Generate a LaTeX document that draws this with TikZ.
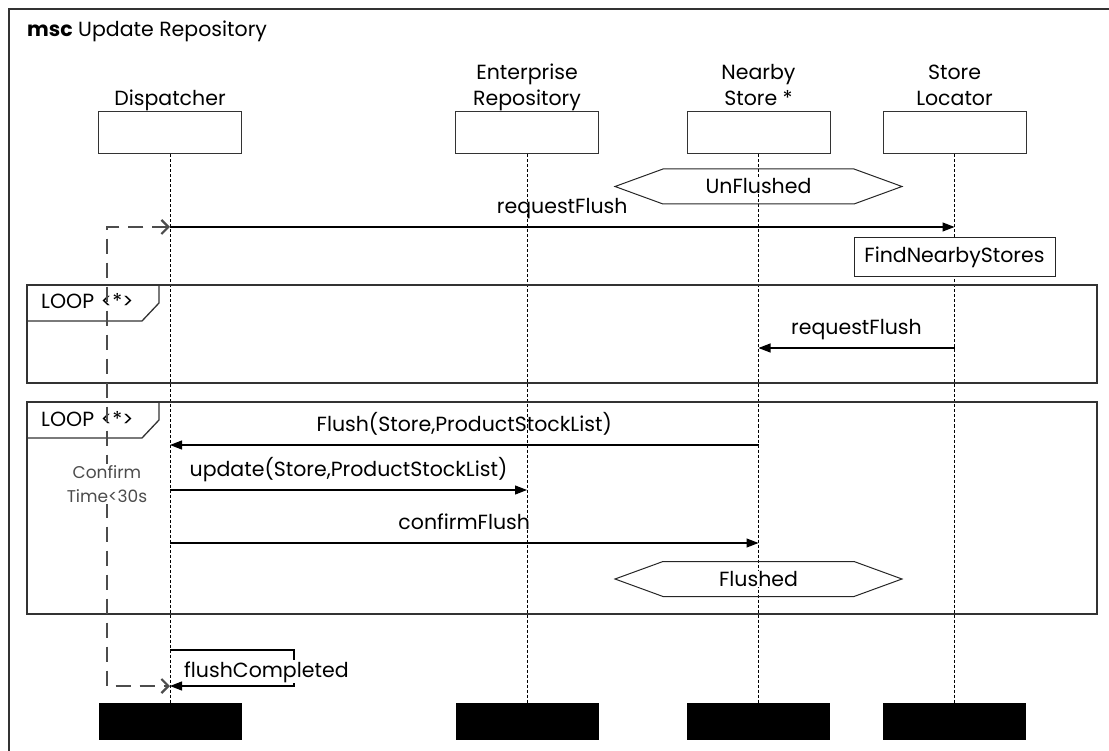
\documentclass[tikz,border=0pt]{standalone}
\usepackage{fontspec}
\setmainfont{Poppins}
\usetikzlibrary{arrows.meta,calc}
\begin{document}
\begin{tikzpicture}[x=1pt,y=-1pt,
  font=\fontsize{20.5}{26}\selectfont,
  frameline/.style={draw=black!80, line width=1.3pt},
  headbox/.style={draw=black!80, line width=1pt, minimum width=143pt, minimum height=42pt, inner sep=0pt},
  endbox/.style={fill=black, minimum width=143pt, minimum height=37pt, inner sep=0pt},
  headlabel/.style={align=center, anchor=base, inner sep=0pt},
  lifeline/.style={draw=black, line width=0.7pt, dash pattern=on 3pt off 2pt},
  msg/.style={draw=black, line width=1.1pt, -{Triangle[length=12pt,width=9pt]}},
  msglabel/.style={midway, anchor=base, yshift=13.5pt, inner sep=0pt},
  statebox/.style={draw=black!85, line width=1pt},
  timer/.style={draw=black!70, line width=2.2pt, dash pattern=on 15pt off 9pt,
                {Straight Barb[length=7pt,width=14pt]}-{Straight Barb[length=7pt,width=14pt]}},
]
\useasboundingbox (0,0) rectangle (1109,751);

% outer msc frame
\draw[frameline] (9,751) -- (9,9) -- (1109,9);
\node[anchor=base west, inner sep=0pt] (title) at (27,37) {\textbf{msc} Update Repository};

% instance heads
\node[headbox] (disp) at (170,133) {};
\node[headbox] (repo) at (527,133) {};
\node[headbox] (near) at (758.5,133) {};
\node[headbox] (loc)  at (954.5,133) {};
\node[headlabel] (displ) at (170,106) {Dispatcher};
\node[headlabel] (repol1) at (527,80) {Enterprise};
\node[headlabel] (repol2) at (527,106) {Repository};
\node[headlabel] (nearl1) at (758.5,80) {Nearby};
\node[headlabel] (nearl2) at (758.5,106) {Store *};
\node[headlabel] (locl1) at (954.5,80) {Store};
\node[headlabel] (locl2) at (954.5,106) {Locator};

% instance ends
\node[endbox] (dispe) at (170,721.5) {};
\node[endbox] (repoe) at (527,721.5) {};
\node[endbox] (neare) at (758.5,721.5) {};
\node[endbox] (loce)  at (954.5,721.5) {};

% lifelines
\draw[lifeline] (disp.south) -- (dispe.north);
\draw[lifeline] (repo.south) -- (repoe.north);
\draw[lifeline] (near.south) -- (neare.north);
\draw[lifeline] (loc.south) -- (loce.north);

% UnFlushed condition
\node[fill=white, inner sep=0pt] (unf) at (758.5,186.5) {UnFlushed};
\draw[statebox] ($(unf)+(-143.5,0)$) -- ++(48,-17.5) -- ++(191,0) -- ++(48,17.5)
  -- ++(-48,17.5) -- ++(-191,0) -- cycle;

% requestFlush to the locator
\draw[msg] (disp |- 0,227) -- node[msglabel] {requestFlush} (loc |- 0,227);

% FindNearbyStores action
\node[draw=black!85, line width=1pt, fill=white, minimum width=201pt, minimum height=39pt, inner sep=0pt]
  (find) at (954.5,257.5) {FindNearbyStores};

% first loop
\draw[frameline] (27,285) rectangle (1097,383);
\draw[frameline] (27,321) -- (142,321) -- (159,303) -- (159,285);
\node[anchor=base west, inner sep=0pt] (loop1) at (41,309) {LOOP\,\,<*>};
\draw[msg] (loc |- 0,348) -- node[msglabel] {requestFlush} (near |- 0,348);

% second loop
\draw[frameline] (27,402) rectangle (1097,614);
\draw[frameline] (27,438) -- (142,438) -- (159,420) -- (159,402);
\node[anchor=base west, inner sep=0pt] (loop2) at (41,426) {LOOP\,\,<*>};
\draw[msg] (near |- 0,445) -- node[msglabel] {Flush(Store,ProductStockList)} (disp |- 0,445);
\draw[msg] (disp |- 0,490) -- node[msglabel] {update(Store,ProductStockList)} (repo |- 0,490);
\draw[msg] (disp |- 0,543) -- node[msglabel] {confirmFlush} (near |- 0,543);

% Flushed condition
\node[fill=white, inner sep=0pt] (fl) at (758.5,579) {Flushed};
\draw[statebox] ($(fl)+(-143.5,0)$) -- ++(48,-17.5) -- ++(191,0) -- ++(48,17.5)
  -- ++(-48,17.5) -- ++(-191,0) -- cycle;

% flushCompleted self message
\coordinate (sc1) at (294,650);
\coordinate (sc2) at (294,686);
\draw[msg] (disp |- sc1) -- (sc1) -- (sc2) -- (disp |- sc2);
\node[anchor=base west, fill=white, inner sep=1pt] (fc) at (183,677) {flushCompleted};

% timing constraint
\coordinate (tt) at (107,227);
\coordinate (tb) at (107,686);
\draw[timer] (disp |- tt) -- (tt) -- (tb) -- (disp |- tb);
\node[fill=white, inner sep=1pt, align=center, text=black!70,
      font=\fontsize{17}{24}\selectfont] (tc) at (107,484) {Confirm\\Time<30s};
\end{tikzpicture}
\end{document}
